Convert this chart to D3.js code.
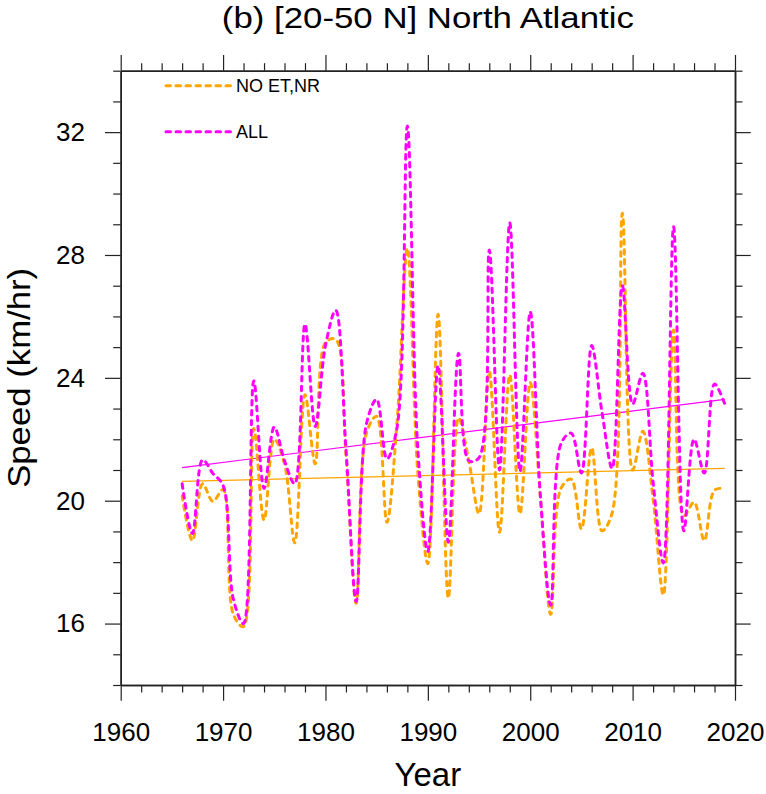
<!DOCTYPE html>
<html>
<head>
<meta charset="utf-8">
<script src="https://cdn.jsdelivr.net/npm/d3@7"></script>
<style>
  html, body { margin: 0; padding: 0; background: #fff; }
  svg { display: block; }
  text { font-family: "Liberation Sans", Arial, Helvetica, sans-serif; fill: #000; }
</style>
</head>
<body>
<svg id="chart" width="766" height="794"></svg>
<script>
// ---- Data ----
const years = d3.range(1966, 2020);
const allSpeed = [
  20.55, 18.93, 21.33, 20.89, 20.5, 16.8, 16.0, 23.9, 20.4, 22.4,
  21.3, 20.55, 25.75, 22.42, 25.05, 26.2, 21.7, 16.72, 22.5, 23.3,
  21.36, 22.4, 32.2, 21.8, 18.35, 24.4, 18.65, 24.8, 21.3, 21.4,
  28.16, 21.0, 29.05, 20.95, 26.15, 20.1, 16.6, 21.85, 22.2, 20.9,
  25.05, 22.9, 21.05, 27.0, 23.15, 24.15, 20.6, 17.97, 28.92, 19.02,
  22.0, 20.9, 23.8, 23.15
];
const noEtNrSpeed = [
  20.16, 18.7, 20.55, 19.98, 20.36, 16.3, 15.9, 22.35, 19.37, 22.0,
  21.2, 18.63, 23.45, 21.2, 25.15, 25.25, 21.5, 16.66, 22.2, 22.75,
  19.3, 22.6, 28.22, 21.0, 17.95, 26.07, 16.83, 22.7, 21.3, 19.58,
  24.2, 18.97, 24.1, 19.58, 23.85, 20.1, 16.3, 20.4, 20.7, 19.08,
  21.72, 19.02, 19.6, 29.36, 21.0, 22.26, 20.06, 16.93, 25.56, 19.51,
  19.95, 18.7, 20.34, 20.4
];
// Linear trend end points for 1966 and 2019
const trendYears = [1966, 2019];
const allTrend = [21.08, 23.3];
const noEtNrTrend = [20.63, 21.05];

const seriesNames = ["NO ET,NR", "ALL"];
const seriesColors = ["#FFA500", "#FF00FF"];
const xMajorTicks = [1960, 1970, 1980, 1990, 2000, 2010, 2020];
const yMajorTicks = [16, 20, 24, 28, 32];

const titleText = "(b) [20-50 N] North Atlantic";
const xLabel = "Year";
const yLabel = "Speed (km/hr)";

// ---- Layout ----
const svg = d3.select("#chart");
const L = 120.7, R = 735, T = 70.7, B = 685;
const x = d3.scaleLinear().domain([1960, 2020]).range([L, R]);
const y = d3.scaleLinear().domain([14, 34]).range([B, T]);

const majorLen = 15.7, minorLen = 7.5;
const xMinor = d3.range(1960, 2021, 2).filter(v => !xMajorTicks.includes(v));
const yMinor = d3.range(14, 35, 1).filter(v => !yMajorTicks.includes(v));
const axisColor = "#222";

function styleAxis(g) {
  g.selectAll("path.domain").attr("stroke", axisColor).attr("stroke-width", 1.5);
  g.selectAll(".tick line").attr("stroke", axisColor).attr("stroke-width", 1.2);
}
function styleLabels(g) {
  g.selectAll("text").attr("font-size", 26)
    .style("font-family", '"Liberation Sans", Arial, sans-serif').attr("fill", "#000");
}

// bottom
const gB = svg.append("g").attr("transform", `translate(0,${B})`);
gB.append("g").call(d3.axisBottom(x).tickValues(xMinor).tickSize(minorLen).tickSizeOuter(0).tickFormat(""))
  .call(styleAxis);
gB.append("g").call(d3.axisBottom(x).tickValues(xMajorTicks).tickSize(majorLen).tickSizeOuter(0).tickPadding(22).tickFormat(d3.format("d")))
  .call(styleAxis).call(styleLabels);
// top
const gT = svg.append("g").attr("transform", `translate(0,${T})`);
gT.append("g").call(d3.axisTop(x).tickValues(xMinor).tickSize(minorLen).tickSizeOuter(0).tickFormat("")).call(styleAxis);
gT.append("g").call(d3.axisTop(x).tickValues(xMajorTicks).tickSize(majorLen).tickSizeOuter(0).tickFormat("")).call(styleAxis);
// left
const gL = svg.append("g").attr("transform", `translate(${L},0)`);
gL.append("g").call(d3.axisLeft(y).tickValues(yMinor).tickSize(minorLen).tickSizeOuter(0).tickFormat("")).call(styleAxis);
gL.append("g").call(d3.axisLeft(y).tickValues(yMajorTicks).tickSize(majorLen).tickSizeOuter(0).tickPadding(20).tickFormat(d3.format("d")))
  .call(styleAxis).call(styleLabels);
// right
const gR = svg.append("g").attr("transform", `translate(${R},0)`);
gR.append("g").call(d3.axisRight(y).tickValues(yMinor).tickSize(minorLen).tickSizeOuter(0).tickFormat("")).call(styleAxis);
gR.append("g").call(d3.axisRight(y).tickValues(yMajorTicks).tickSize(majorLen).tickSizeOuter(0).tickFormat("")).call(styleAxis);

// ---- Series ----
const line = d3.line()
  .x(d => x(d[0]))
  .y(d => y(d[1]))
  .curve(d3.curveCatmullRom.alpha(0.5));

const plot = svg.append("g");
[noEtNrTrend, allTrend].forEach((t, i) => {
  plot.append("path")
    .attr("d", d3.line().x(d => x(d[0])).y(d => y(d[1]))(trendYears.map((yr, k) => [yr, t[k]])))
    .attr("fill", "none")
    .attr("stroke", seriesColors[i])
    .attr("stroke-width", 1.2);
});
[noEtNrSpeed, allSpeed].forEach((vals, i) => {
  plot.append("path")
    .attr("d", line(years.map((yr, k) => [yr, vals[k]])))
    .attr("fill", "none")
    .attr("stroke", seriesColors[i])
    .attr("stroke-width", 3)
    .attr("stroke-dasharray", "4.5,5.5")
    .attr("stroke-linecap", "round");
});

// ---- Legend ----
const legendY = [85.7, 131.7];
seriesNames.forEach((name, i) => {
  svg.append("line")
    .attr("x1", 166).attr("x2", 234)
    .attr("y1", legendY[i]).attr("y2", legendY[i])
    .attr("stroke", seriesColors[i])
    .attr("stroke-width", 3)
    .attr("stroke-dasharray", "4.5,5.5")
    .attr("stroke-linecap", "round");
  svg.append("text")
    .attr("x", 236).attr("y", legendY[i] + 6.3)
    .attr("font-size", 18)
    .text(name);
});

// ---- Titles ----
svg.append("text")
  .attr("x", (L + R) / 2).attr("y", 28)
  .attr("text-anchor", "middle")
  .attr("font-size", 30)
  .attr("textLength", 412)
  .attr("lengthAdjust", "spacingAndGlyphs")
  .text(titleText);

svg.append("text")
  .attr("x", (L + R) / 2).attr("y", 786)
  .attr("text-anchor", "middle")
  .attr("font-size", 33)
  .text(xLabel);

svg.append("text")
  .attr("transform", `translate(30,${(T + B) / 2}) rotate(-90)`)
  .attr("text-anchor", "middle")
  .attr("font-size", 32)
  .attr("textLength", 220)
  .attr("lengthAdjust", "spacingAndGlyphs")
  .text(yLabel);
</script>
</body>
</html>
